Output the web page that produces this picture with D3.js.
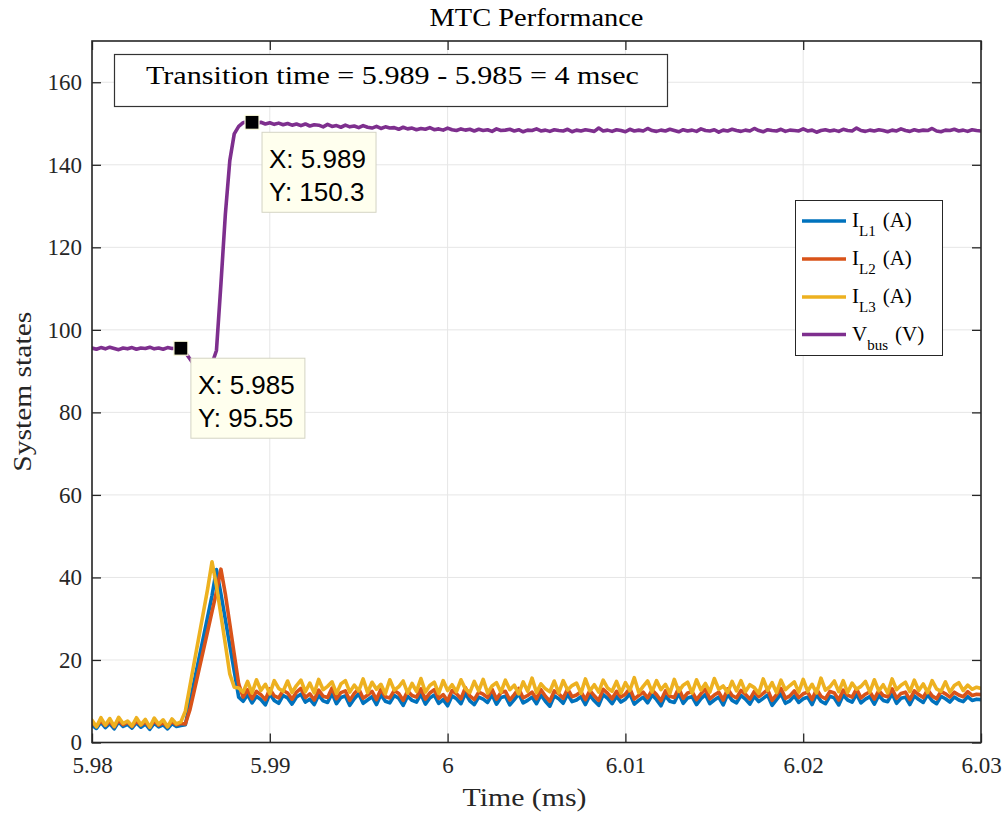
<!DOCTYPE html>
<html>
<head>
<meta charset="utf-8">
<script src="https://cdn.jsdelivr.net/npm/d3@7"></script>
<style>
  body { margin: 0; background: #fff; }
  svg { display: block; }
</style>
</head>
<body>
<svg id="chart" width="1006" height="815"></svg>
<script>
// ---- sampling grid (ms) ----
const tStart = 5.98;
const tStep = 0.00025;
const nSamples = 201;

// ---- axis ticks ----
const xTicks = [5.98, 5.99, 6.0, 6.01, 6.02, 6.03];
const xTickLabels = ["5.98", "5.99", "6", "6.01", "6.02", "6.03"];
const yTicks = [0, 20, 40, 60, 80, 100, 120, 140, 160];
const yTickLabels = ["0", "20", "40", "60", "80", "100", "120", "140", "160"];

// ---- inductor current, leg 1 (A) ----
const iL1 = [
  4.2, 3.4, 4.9, 3.6, 4.6, 3.3, 5.0, 3.9, 4.4, 3.5, 4.8, 3.7, 4.5, 3.2, 4.7, 3.8, 4.3, 3.3, 4.6, 3.9, 4.1,
  4.3, 9.5, 14.8, 20.0, 25.2, 30.4, 35.6, 41.9, 36.0, 29.8, 23.5, 17.3, 11.0,
  10.0, 11.6, 9.6, 11.2, 10.4, 9.1, 11.8, 10.2, 9.5, 11.4,
  10.8, 9.3, 11.0, 11.7, 9.8, 10.5, 9.2, 11.5, 10.1, 9.7,
  11.9, 9.4, 10.9, 11.3, 9.0, 10.6, 11.8, 9.5, 10.3, 11.1,
  9.2, 11.6, 10.0, 9.6, 11.4, 10.7, 9.0, 11.2, 10.2, 9.8,
  11.7, 9.3, 10.8, 11.5, 9.5, 10.4, 8.9, 11.3, 10.6, 9.4,
  11.9, 10.1, 9.2, 11.0, 10.5, 9.7, 11.6, 9.3, 10.9, 11.2,
  9.1, 10.4, 11.8, 9.6, 10.2, 11.0, 9.4, 11.5, 10.0, 8.8,
  11.3, 10.6, 9.5, 11.7, 9.9, 10.3, 11.1, 9.2, 11.4, 10.1,
  9.0, 11.6, 10.7, 9.4, 11.2, 9.8, 10.5, 11.8, 9.3, 10.2,
  11.0, 9.6, 11.5, 10.4, 8.9, 11.3, 10.0, 9.7, 11.9, 9.5,
  10.8, 11.1, 9.2, 10.6, 11.6, 9.4, 10.3, 11.0, 9.1, 11.7,
  10.2, 9.6, 11.4, 10.5, 9.3, 11.2, 9.9, 10.7, 11.5, 9.0,
  10.4, 11.8, 9.5, 10.1, 11.3, 9.7, 10.6, 11.0, 9.2, 11.6,
  10.0, 9.4, 11.2, 10.8, 9.1, 11.5, 10.3, 9.8, 11.7, 9.6,
  10.5, 11.1, 9.3, 11.4, 10.2, 9.9, 11.8, 9.5, 10.7, 11.0,
  9.2, 11.3, 10.4, 9.7, 11.6, 10.1, 9.4, 11.2, 10.6, 9.8,
  11.0, 10.3, 9.9, 11.1, 10.2, 10.5, 10.4
];

// ---- inductor current, leg 2 (A) ----
const iL2 = [
  4.8, 3.9, 5.3, 4.1, 5.1, 3.8, 5.4, 4.3, 4.9, 3.9, 5.2, 4.2, 5.0, 3.7, 5.3, 4.2, 4.8, 3.8, 5.1, 4.3, 4.6,
  4.5, 7.8, 12.5, 17.3, 22.1, 26.9, 31.7, 36.5, 42.0, 36.0, 28.7, 21.4, 14.2,
  11.0, 12.8, 10.6, 12.4, 11.6, 10.4, 13.0, 11.3, 10.8, 12.6,
  12.0, 10.5, 12.2, 13.1, 10.9, 11.8, 10.3, 12.7, 11.2, 10.9,
  13.2, 10.6, 12.1, 12.5, 10.2, 11.9, 13.0, 10.7, 11.5, 12.4,
  10.4, 12.9, 11.1, 10.8, 12.6, 11.9, 10.2, 12.5, 11.4, 11.0,
  13.0, 10.5, 12.0, 12.8, 10.7, 11.6, 10.1, 12.6, 11.8, 10.6,
  13.3, 11.3, 10.4, 12.2, 11.7, 10.9, 12.9, 10.5, 12.1, 12.4,
  10.3, 11.6, 13.1, 10.8, 11.4, 12.2, 10.6, 12.8, 11.2, 10.0,
  12.5, 11.8, 10.7, 13.0, 11.1, 11.5, 12.3, 10.4, 12.6, 11.3,
  10.2, 12.9, 11.9, 10.6, 12.4, 11.0, 11.7, 13.1, 10.5, 11.4,
  12.2, 10.8, 12.7, 11.6, 10.1, 12.5, 11.2, 10.9, 13.2, 10.7,
  12.0, 12.3, 10.4, 11.8, 12.9, 10.6, 11.5, 12.2, 10.3, 13.0,
  11.4, 10.8, 12.6, 11.7, 10.5, 12.4, 11.1, 11.9, 12.8, 10.2,
  11.6, 13.1, 10.7, 11.3, 12.5, 10.9, 11.8, 12.2, 10.4, 12.9,
  11.2, 10.6, 12.4, 12.0, 10.3, 12.7, 11.5, 11.0, 13.0, 10.8,
  11.7, 12.3, 10.5, 12.6, 11.4, 11.1, 13.0, 10.7, 11.9, 12.2,
  10.4, 12.5, 11.6, 10.9, 12.8, 11.3, 10.6, 12.4, 11.8, 11.0,
  12.2, 11.5, 11.1, 12.3, 11.4, 11.7, 11.6
];

// ---- inductor current, leg 3 (A) ----
const iL3 = [
  5.4, 3.8, 6.0, 4.2, 5.8, 3.9, 6.1, 4.6, 5.2, 4.0, 6.0, 4.3, 5.6, 3.7, 5.9, 4.4, 5.5, 3.8, 5.7, 4.5, 5.0,
  7.6, 13.5, 19.4, 25.3, 31.2, 37.1, 43.8, 38.0, 30.9, 23.8, 16.6, 13.4, 13.2,
  12.2, 14.8, 12.0, 15.2, 12.6, 14.1, 11.8, 15.0, 13.1, 12.4,
  14.9, 12.1, 13.8, 15.1, 12.3, 14.4, 12.0, 15.3, 12.8, 13.6,
  14.7, 11.9, 14.2, 15.0, 12.2, 13.9, 12.5, 15.4, 12.1, 14.6,
  12.9, 14.1, 11.8, 15.2, 12.7, 13.5, 14.9, 12.0, 14.3, 12.4,
  15.5, 12.2, 13.8, 14.6, 11.9, 15.0, 12.6, 14.0, 12.3, 15.2,
  13.0, 12.1, 14.8, 12.5, 15.3, 12.0, 13.7, 14.5, 12.2, 15.1,
  12.8, 13.9, 11.8, 14.7, 12.4, 15.6, 12.1, 14.2, 13.0, 12.3,
  14.9, 12.0, 15.0, 12.7, 13.8, 14.4, 11.9, 15.4, 12.5, 14.0,
  12.2, 15.1, 13.2, 12.4, 14.8, 12.0, 14.5, 12.6, 15.7, 12.1,
  13.6, 14.9, 12.3, 15.0, 12.8, 14.1, 11.9, 15.3, 12.4, 13.9,
  14.6, 12.0, 15.2, 12.7, 14.3, 12.2, 15.5, 12.9, 13.7, 12.1,
  14.8, 12.5, 15.0, 12.3, 14.0, 13.3, 11.9, 15.4, 12.6, 14.5,
  12.1, 15.1, 12.8, 13.8, 14.7, 12.2, 15.3, 12.4, 14.1, 12.0,
  15.6, 12.7, 13.5, 14.9, 12.3, 15.0, 12.1, 14.4, 12.9, 13.6,
  14.8, 12.2, 15.2, 12.5, 14.0, 12.0, 15.4, 12.8, 13.9, 14.6,
  12.3, 15.1, 12.6, 14.2, 12.1, 15.0, 13.0, 12.4, 14.7, 12.2,
  13.8, 14.5, 12.6, 13.9, 12.9, 13.4, 13.1
];

// ---- DC bus voltage (V) ----
const vBus = [
  95.6, 95.3, 95.7, 95.4, 95.8, 95.5, 95.2, 95.6, 95.4, 95.7, 95.3, 95.6, 95.5, 95.8, 95.4, 95.6, 95.3, 95.7, 95.5, 95.6, 95.55,
  94.5, 93.0, 91.5, 90.5, 90.2, 90.6, 91.8, 95.0, 111.0, 128.0, 141.0, 147.5, 149.3, 150.2, 150.5, 150.3,
  150.0, 150.3, 149.9, 150.2, 149.8, 150.1, 149.7, 150.0, 149.6, 149.9,
  149.5, 149.9, 149.4, 149.7, 149.6, 149.2, 149.8, 149.3, 149.5, 149.1,
  149.6, 149.2, 149.4, 149.0, 149.5, 149.1, 148.9, 149.3, 148.8, 149.2,
  148.9, 149.0, 148.6, 149.1, 148.7, 148.9, 148.5, 148.8, 148.6, 149.0,
  148.5, 148.7, 148.4, 148.9, 148.5, 148.3, 148.7, 148.4, 148.6, 148.2,
  148.6, 148.3, 148.5, 148.1, 148.7, 148.3, 148.4, 148.6, 148.2, 148.5,
  148.0, 148.4, 148.3, 148.7, 148.2, 148.4, 148.1, 148.5, 148.3, 148.2,
  148.6, 148.0, 148.4, 148.2, 148.5, 148.3, 148.1, 148.9, 148.2, 148.4,
  148.1, 148.5, 148.3, 148.0, 148.6, 148.2, 148.4, 148.2, 148.8, 148.3,
  148.1, 148.4, 148.2, 148.6, 148.3, 148.0, 148.5, 148.2, 148.4, 148.1,
  148.7, 148.3, 148.2, 148.5, 147.9, 148.4, 148.2, 148.6, 148.3, 148.1,
  148.4, 148.2, 148.8, 148.3, 148.0, 148.5, 148.3, 148.2, 148.6, 148.1,
  148.4, 148.3, 148.2, 148.7, 148.2, 148.4, 147.9, 148.3, 148.5, 148.2,
  148.4, 148.1, 148.6, 148.3, 148.2, 148.9, 148.3, 148.1, 148.4, 148.2,
  148.5, 148.3, 148.0, 148.4, 148.2, 148.7, 148.3, 148.1, 148.5, 148.2,
  148.4, 148.3, 148.8, 148.2, 148.0, 148.4, 148.3, 148.6, 148.2, 148.4,
  148.1, 148.5, 148.3, 148.2
];

// ---- data tips on the bus voltage ----
const tipPoints = [
  { t: 5.985, v: 95.55, xLabel: "X: 5.985", yLabel: "Y: 95.55" },
  { t: 5.989, v: 150.3, xLabel: "X: 5.989", yLabel: "Y: 150.3" }
];

const annotationText = "Transition time = 5.989 - 5.985 = 4 msec";

const seriesList = [
  { name: "L1", values: iL1, color: "#0072BD", main: "I", sub: "L1", unit: "(A)" },
  { name: "L2", values: iL2, color: "#D95319", main: "I", sub: "L2", unit: "(A)" },
  { name: "L3", values: iL3, color: "#EDB120", main: "I", sub: "L3", unit: "(A)" },
  { name: "bus", values: vBus, color: "#7E2F8E", main: "V", sub: "bus", unit: "(V)" }
];

// ---- layout ----
const W = 1006, H = 815;
const plot = { left: 92, right: 981, top: 41, bottom: 742.5 };
const axisColor = "#262626";
const serif = "'Liberation Serif', 'Times New Roman', serif";
const sans = "'Liberation Sans', Arial, sans-serif";
const lineWidth = 3.6;

const time = d3.range(nSamples).map(i => tStart + i * tStep);

const x = d3.scaleLinear().domain([5.98, 6.03]).range([plot.left, plot.right]);
const y = d3.scaleLinear().domain([0, 170]).range([plot.bottom, plot.top]);

const svg = d3.select("#chart");
svg.append("rect").attr("width", W).attr("height", H).attr("fill", "#fff");

svg.append("defs").append("clipPath").attr("id", "plot-clip")
  .append("rect")
  .attr("x", plot.left).attr("y", plot.top)
  .attr("width", plot.right - plot.left).attr("height", plot.bottom - plot.top);

// grid
const grid = svg.append("g").attr("stroke", "#e6e6e6").attr("stroke-width", 1);
grid.selectAll("line.gx").data(xTicks).join("line")
  .attr("x1", d => x(d)).attr("x2", d => x(d))
  .attr("y1", plot.top).attr("y2", plot.bottom);
grid.selectAll("line.gy").data(yTicks).join("line")
  .attr("x1", plot.left).attr("x2", plot.right)
  .attr("y1", d => y(d)).attr("y2", d => y(d));

// data lines
const line = d3.line().x((d, i) => x(time[i])).y(d => y(d));
const lines = svg.append("g").attr("clip-path", "url(#plot-clip)");
seriesList.forEach(s => {
  lines.append("path")
    .attr("d", line(s.values))
    .attr("fill", "none")
    .attr("stroke", s.color)
    .attr("stroke-width", lineWidth)
    .attr("stroke-linejoin", "round")
    .attr("stroke-linecap", "round");
});

// axes
function styleAxis(g) {
  g.select(".domain").remove();
  g.selectAll(".tick line").attr("stroke", axisColor).attr("stroke-width", 1.3);
  g.selectAll(".tick text").attr("fill", axisColor)
    .style("font-family", serif).style("font-size", "23px");
}
svg.append("g").attr("transform", `translate(0,${plot.bottom})`)
  .call(d3.axisBottom(x).tickValues(xTicks).tickSize(-9).tickPadding(14)
    .tickFormat((d, i) => xTickLabels[i]))
  .call(styleAxis);
svg.append("g").attr("transform", `translate(0,${plot.top})`)
  .call(d3.axisTop(x).tickValues(xTicks).tickSize(-9).tickFormat(""))
  .call(styleAxis);
svg.append("g").attr("transform", `translate(${plot.left},0)`)
  .call(d3.axisLeft(y).tickValues(yTicks).tickSize(-9).tickPadding(10)
    .tickFormat((d, i) => yTickLabels[i]))
  .call(styleAxis);
svg.append("g").attr("transform", `translate(${plot.right},0)`)
  .call(d3.axisRight(y).tickValues(yTicks).tickSize(-9).tickFormat(""))
  .call(styleAxis);

// axes box
svg.append("rect")
  .attr("x", plot.left).attr("y", plot.top)
  .attr("width", plot.right - plot.left).attr("height", plot.bottom - plot.top)
  .attr("fill", "none").attr("stroke", axisColor).attr("stroke-width", 1.6);

// title and axis labels (wide serif, stretched to the computer-modern widths)
svg.append("text")
  .attr("x", (plot.left + plot.right) / 2).attr("y", 26)
  .attr("text-anchor", "middle").attr("fill", "#000")
  .attr("textLength", 214).attr("lengthAdjust", "spacingAndGlyphs")
  .style("font-family", serif).style("font-size", "25px")
  .text("MTC Performance");
svg.append("text")
  .attr("x", (plot.left + plot.right) / 2 - 12).attr("y", 806)
  .attr("text-anchor", "middle").attr("fill", axisColor)
  .attr("textLength", 124).attr("lengthAdjust", "spacingAndGlyphs")
  .style("font-family", serif).style("font-size", "25px")
  .text("Time (ms)");
svg.append("text")
  .attr("transform", `translate(31,${(plot.top + plot.bottom) / 2}) rotate(-90)`)
  .attr("text-anchor", "middle").attr("fill", axisColor)
  .attr("textLength", 160).attr("lengthAdjust", "spacingAndGlyphs")
  .style("font-family", serif).style("font-size", "25px")
  .text("System states");

// annotation box
svg.append("rect")
  .attr("x", 114.5).attr("y", 54.5).attr("width", 553).attr("height", 52)
  .attr("fill", "#fff").attr("stroke", "#333").attr("stroke-width", 1.2);
svg.append("text")
  .attr("x", 146).attr("y", 84)
  .attr("fill", "#000")
  .attr("textLength", 493).attr("lengthAdjust", "spacingAndGlyphs")
  .style("font-family", serif).style("font-size", "26px")
  .text(annotationText);

// legend
const legend = svg.append("g");
legend.append("rect")
  .attr("x", 795.5).attr("y", 200.5).attr("width", 147).attr("height", 155)
  .attr("fill", "#fff").attr("stroke", axisColor).attr("stroke-width", 1);
const rowY = [221, 259, 297, 334.5];
seriesList.forEach((s, i) => {
  const ly = rowY[i];
  legend.append("line")
    .attr("x1", 802).attr("x2", 846).attr("y1", ly).attr("y2", ly)
    .attr("stroke", s.color).attr("stroke-width", lineWidth);
  const t = legend.append("text")
    .attr("x", 852).attr("y", ly + 6).attr("fill", "#000")
    .style("font-family", serif).style("font-size", "21px");
  t.append("tspan").text(s.main);
  t.append("tspan").attr("dy", 9).style("font-size", "15px").text(s.sub);
  t.append("tspan").attr("dy", -9).attr("dx", 7).text(s.unit);
});

// data tips
tipPoints.forEach(p => {
  const px = x(p.t), py = y(p.v);
  const bx = px + 10, by = py + 10;
  svg.append("rect")
    .attr("x", bx).attr("y", by).attr("width", 114).attr("height", 80)
    .attr("fill", "#ffffee").attr("stroke", "#d4d4c4").attr("stroke-width", 1);
  svg.append("text")
    .attr("x", bx + 7).attr("y", by + 36).attr("fill", "#000")
    .style("font-family", sans).style("font-size", "26px")
    .text(p.xLabel);
  svg.append("text")
    .attr("x", bx + 7).attr("y", by + 69).attr("fill", "#000")
    .style("font-family", sans).style("font-size", "26px")
    .text(p.yLabel);
  svg.append("rect")
    .attr("x", px - 7).attr("y", py - 7).attr("width", 14).attr("height", 14)
    .attr("fill", "#000").attr("stroke", "#ffffe0").attr("stroke-width", 1.2);
});
</script>
</body>
</html>
